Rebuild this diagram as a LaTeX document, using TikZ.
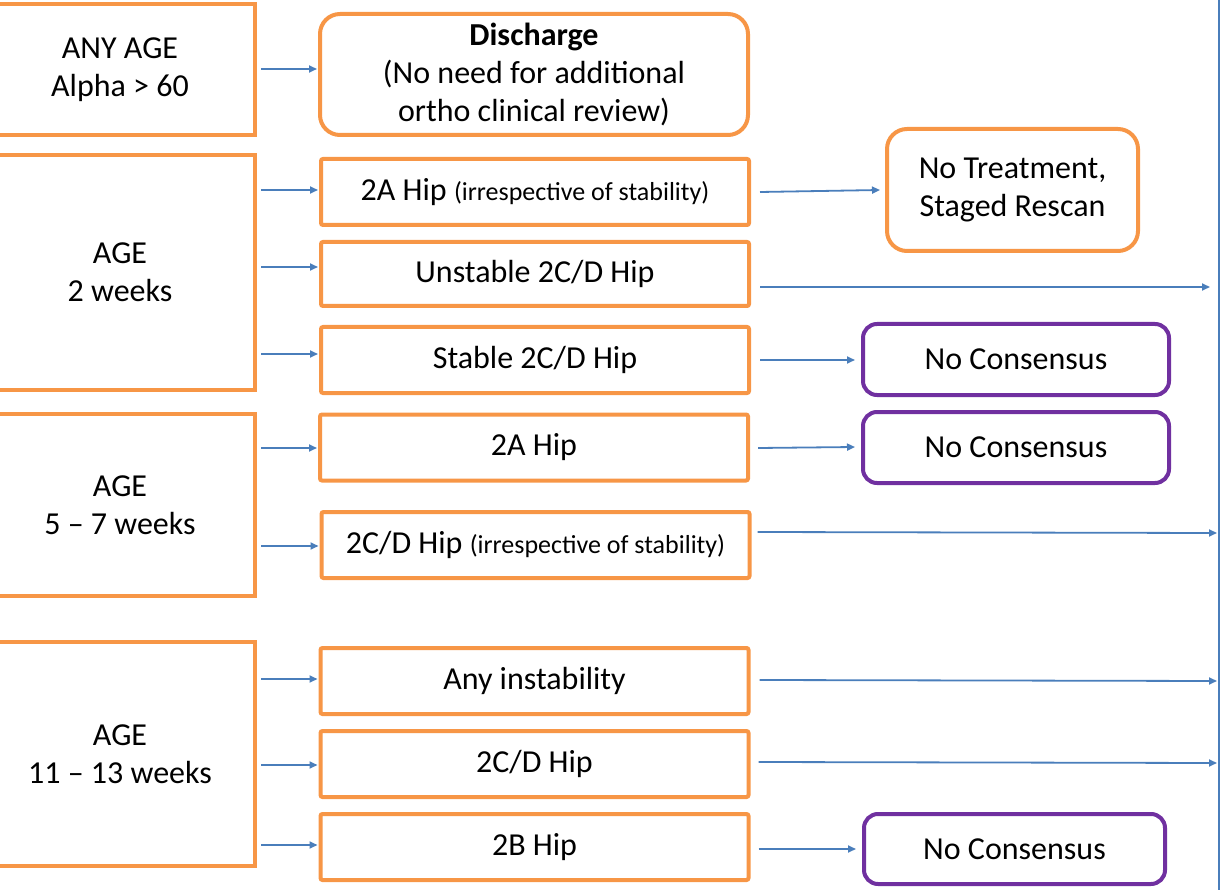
\documentclass[tikz,border=0pt]{standalone}
\usepackage{fontspec}
\setmainfont{Carlito}
\usetikzlibrary{arrows.meta,calc}
\definecolor{org}{HTML}{F79646}
\definecolor{pur}{HTML}{7030A0}
\definecolor{blu}{HTML}{4A7EBB}
\begin{document}
\begin{tikzpicture}[x=1pt,y=-1pt,
  txt/.style={font=\fontsize{32}{38}\selectfont,align=center,inner sep=0pt},
  agebox/.style={txt,draw=org,line width=4pt,fill=white,minimum width=270pt},
  midbox/.style={txt,draw=org,line width=4pt,fill=white,minimum width=428pt,minimum height=66pt,rounded corners=2pt},
  endbox/.style={txt,draw=org,line width=4pt,fill=white,rounded corners=20pt},
  ncbox/.style={txt,draw=pur,line width=4pt,fill=white,rounded corners=14pt,minimum height=71pt},
  arr/.style={draw=blu,line width=1.8pt,-{Triangle[length=8pt,width=7pt]}}
]
\useasboundingbox (0,0) rectangle (1223,890);
\clip (0,0) rectangle (1223,890);
\newcommand{\smalltxt}[1]{{\fontsize{26}{30}\selectfont #1}}

% right vertical line
\coordinate (RT) at (1219,-5);
\coordinate (RB) at (1219,895);
\draw[blu,line width=2pt] (RT) -- (RB);

% age boxes
\node[agebox,minimum height=131pt] (A1) at (120,69.5) {ANY AGE\\Alpha > 60};
\node[agebox,minimum height=235pt] (A2) at (120,272.5) {AGE\\2 weeks};
\node[agebox,minimum height=182pt] (A3) at (120,505) {AGE\\5 -- 7 weeks};
\node[agebox,minimum height=224pt] (A4) at (120,754) {AGE\\11 -- 13 weeks};

% middle boxes
\node[endbox,minimum width=428pt,minimum height=121pt] (D) at (534,74.5) {\textbf{Discharge}\\(No need for additional\\ortho clinical review)};
\node[midbox] (B1) at (535,192) {2A Hip \smalltxt{(irrespective of stability)}};
\node[midbox,minimum height=64pt] (B2) at (535,274) {Unstable 2C/D Hip};
\node[midbox] (B3) at (535,360) {Stable 2C/D Hip};
\node[midbox] (B4) at (534,447.5) {2A Hip};
\node[midbox] (B5) at (535.5,545) {2C/D Hip \smalltxt{(irrespective of stability)}};
\node[midbox] (B6) at (534.5,681) {Any instability};
\node[midbox] (B7) at (534.5,764) {2C/D Hip};
\node[midbox] (B8) at (534.5,847) {2B Hip};

% right boxes
\node[endbox,minimum width=251pt,minimum height=122pt] (T) at (1012.5,190) {No Treatment,\\Staged Rescan};
\node[ncbox,minimum width=306pt] (C1) at (1016,359.5) {No Consensus};
\node[ncbox,minimum width=306pt] (C2) at (1016,447.5) {No Consensus};
\node[ncbox,minimum width=301pt,minimum height=70pt] (C3) at (1014.5,849) {No Consensus};

% edge coordinate
\coordinate (E) at (1217,0);

% arrows left -> middle
\draw[arr] ([xshift=4pt]A1.east |- 0,69) -- ([xshift=-1pt]D.west |- 0,69);
\draw[arr] ([xshift=4pt]A2.east |- 0,190) -- ([xshift=-1pt]B1.west |- 0,190);
\draw[arr] ([xshift=4pt]A2.east |- 0,267) -- ([xshift=-1pt]B2.west |- 0,267);
\draw[arr] ([xshift=4pt]A2.east |- 0,354) -- ([xshift=-1pt]B3.west |- 0,354);
\draw[arr] ([xshift=4pt]A3.east |- 0,448) -- ([xshift=-1pt]B4.west |- 0,448);
\draw[arr] ([xshift=4pt]A3.east |- 0,546) -- ([xshift=-1pt]B5.west |- 0,546);
\draw[arr] ([xshift=4pt]A4.east |- 0,679) -- ([xshift=-1pt]B6.west |- 0,679);
\draw[arr] ([xshift=4pt]A4.east |- 0,765) -- ([xshift=-1pt]B7.west |- 0,765);
\draw[arr] ([xshift=4pt]A4.east |- 0,845) -- ([xshift=-1pt]B8.west |- 0,845);

% arrows middle -> right
\draw[arr] ([xshift=9pt]B1.east |- 0,192) -- ([xshift=-5pt]T.west |- 0,190);
\draw[arr] ([xshift=9pt]B2.east |- 0,287) -- ([xshift=-7pt]E |- 0,287);
\draw[arr] ([xshift=9pt]B3.east |- 0,360) -- ([xshift=-6pt]C1.west |- 0,360);
\draw[arr] ([xshift=8pt]B4.east |- 0,448) -- ([xshift=-6pt]C2.west |- 0,447);
\draw[arr] ([xshift=6pt]B5.east |- 0,532) -- (E |- 0,533);
\draw[arr] ([xshift=9pt]B6.east |- 0,680) -- (E |- 0,681);
\draw[arr] ([xshift=8pt]B7.east |- 0,762) -- (E |- 0,763);
\draw[arr] ([xshift=8pt]B8.east |- 0,849) -- ([xshift=-6pt]C3.west |- 0,849);
\end{tikzpicture}
\end{document}
